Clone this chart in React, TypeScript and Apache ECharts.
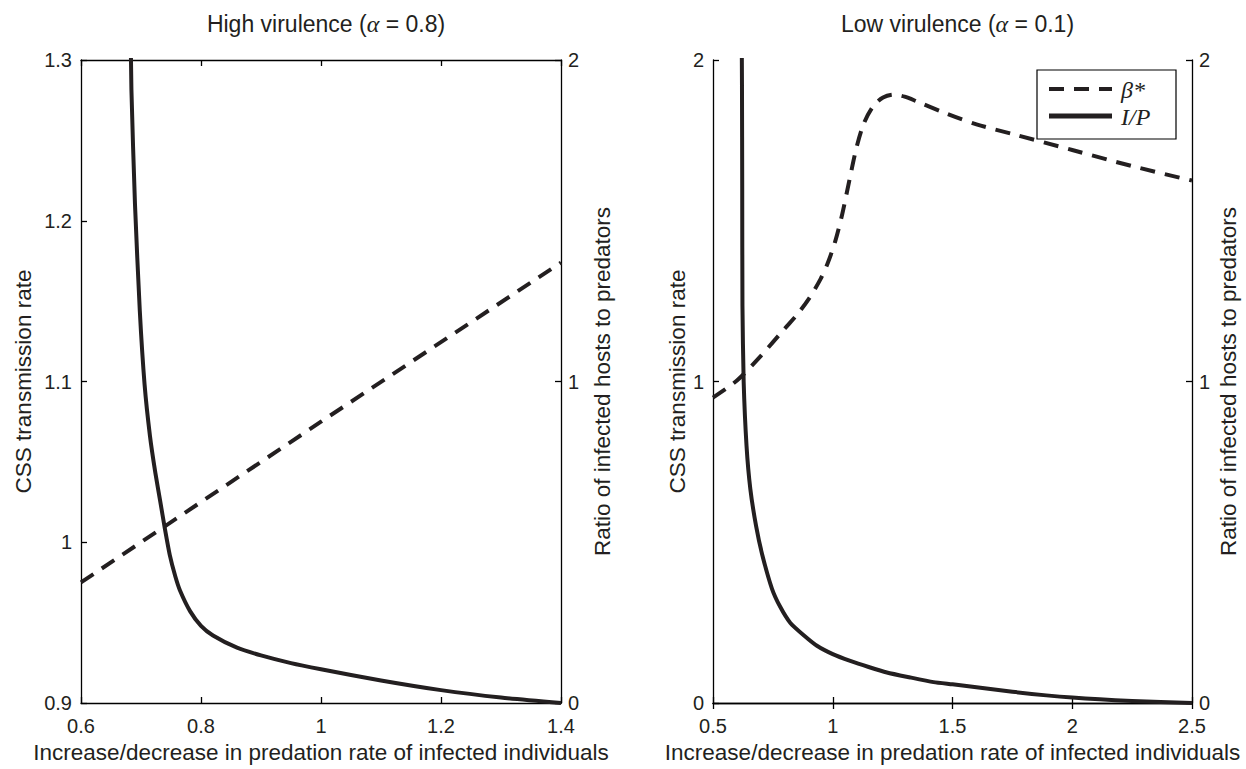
import React, { useEffect, useRef } from "react";
import * as echarts from "echarts";

// ---- Data ----
// Left panel: high virulence (alpha = 0.8)
const leftBetaX = [0.6, 1.0, 1.4];
const leftBetaY = [0.975, 1.075, 1.174];

const leftIPX = [0.682, 0.684, 0.69, 0.698, 0.706, 0.715, 0.724, 0.732, 0.74, 0.748, 0.757, 0.765, 0.782, 0.8, 0.82, 0.86, 0.9, 0.95, 1.0, 1.1, 1.2, 1.3, 1.4];
const leftIPY = [2.2, 1.91, 1.55, 1.22, 0.99, 0.83, 0.715, 0.628, 0.54, 0.46, 0.395, 0.35, 0.285, 0.24, 0.21, 0.172, 0.148, 0.124, 0.105, 0.07, 0.04, 0.017, 0.0];

// Right panel: low virulence (alpha = 0.1)
const rightBetaX = [0.5, 0.6, 0.7, 0.8, 0.85, 0.9, 0.95, 0.98, 1.01, 1.04, 1.07, 1.1, 1.13, 1.17, 1.21, 1.254, 1.3, 1.352, 1.47, 1.6, 1.75, 2.0, 2.25, 2.5];
const rightBetaY = [0.95, 1.003, 1.08, 1.165, 1.207, 1.257, 1.32, 1.37, 1.435, 1.522, 1.628, 1.73, 1.803, 1.857, 1.883, 1.892, 1.886, 1.871, 1.835, 1.8, 1.77, 1.72, 1.67, 1.625];

const rightIPX = [0.619, 0.621, 0.622, 0.623, 0.628, 0.64, 0.656, 0.68, 0.705, 0.746, 0.78, 0.823, 0.88, 0.934, 1.0, 1.073, 1.15, 1.226, 1.32, 1.421, 1.5, 1.75, 2.0, 2.25, 2.5];
const rightIPY = [2.2, 1.92, 1.6, 1.235, 1.0, 0.8, 0.665, 0.55, 0.463, 0.356, 0.3, 0.249, 0.21, 0.178, 0.152, 0.131, 0.112, 0.095, 0.08, 0.065, 0.058, 0.035, 0.017, 0.006, 0.0];

const leftXTicks = { min: 0.6, max: 1.4, interval: 0.2 };
const rightXTicks = { min: 0.5, max: 2.5, interval: 0.5 };
const leftYTicks = { min: 0.9, max: 1.3, interval: 0.1 };
const ratioTicks = { min: 0, max: 2, interval: 1 };

const titles = ["High virulence (", "Low virulence ("];
const alphas = ["0.8", "0.1"];
const xName = "Increase/decrease in predation rate of infected individuals";
const yLeftName = "CSS transmission rate";
const yRightName = "Ratio of infected hosts to predators";
const legendNames = ["β*", "I/P"];

const zip = (xs: number[], ys: number[]) => xs.map((x, i) => [x, ys[i]]);

const INK = "#231f20";
const FONT = "Liberation Sans, Arial, Helvetica, sans-serif";
const SERIF = "'Liberation Serif', 'Times New Roman', serif";

export default function App() {
  const ref = useRef<HTMLDivElement>(null);
  useEffect(() => {
    if (!ref.current) return;
    const chart = echarts.init(ref.current, null, { renderer: "svg" });

    const grids = [
      { left: 81, right: 685, top: 60, bottom: 66 },
      { left: 713, right: 54, top: 60, bottom: 66 },
    ];
    const xr = [leftXTicks, rightXTicks];
    const ylr = [leftYTicks, ratioTicks];
    const leftNameGap = [46, 24];
    const rightNameGap = [30, 25];

    const axisLine = { show: true, lineStyle: { color: "#000", width: 1.3 } };
    const tickStyle = { show: true, inside: true, length: 6, lineStyle: { color: "#000", width: 1.3 } };
    const labelStyle = { color: INK, fontSize: 20, fontFamily: FONT };
    const nameStyle = { color: INK, fontSize: 22.5, fontFamily: FONT };

    const xAxis: any[] = [];
    const yAxis: any[] = [];
    for (let g = 0; g < 2; g++) {
      xAxis.push({
        type: "value",
        gridIndex: g,
        position: "bottom",
        ...xr[g],
        axisLine,
        axisTick: tickStyle,
        splitLine: { show: false },
        axisLabel: { ...labelStyle, margin: 13 },
        name: xName,
        nameLocation: "middle",
        nameGap: 37,
        nameTextStyle: nameStyle,
      });
      xAxis.push({
        type: "value",
        gridIndex: g,
        position: "top",
        ...xr[g],
        axisLine,
        axisTick: tickStyle,
        splitLine: { show: false },
        axisLabel: { show: false },
      });
      yAxis.push({
        type: "value",
        gridIndex: g,
        position: "left",
        ...ylr[g],
        axisLine,
        axisTick: tickStyle,
        splitLine: { show: false },
        axisLabel: { ...labelStyle, margin: 9 },
        name: yLeftName,
        nameLocation: "middle",
        nameRotate: 90,
        nameGap: leftNameGap[g],
        nameTextStyle: nameStyle,
      });
      yAxis.push({
        type: "value",
        gridIndex: g,
        position: "right",
        ...ratioTicks,
        axisLine,
        axisTick: tickStyle,
        splitLine: { show: false },
        axisLabel: { ...labelStyle, margin: 7 },
        name: yRightName,
        nameLocation: "middle",
        nameRotate: 90,
        nameGap: rightNameGap[g],
        nameTextStyle: nameStyle,
      });
    }

    const line = (name: string, data: number[][], xi: number, yi: number, dashed: boolean, smooth: number | boolean) => ({
      type: "line",
      name,
      xAxisIndex: xi,
      yAxisIndex: yi,
      data,
      showSymbol: false,
      symbol: "none",
      smooth,
      clip: true,
      lineStyle: { color: INK, width: 4, type: dashed ? [15, 10] : "solid", cap: "butt", join: "round" },
    });

    const series = [
      line(legendNames[0], zip(leftBetaX, leftBetaY), 0, 0, true, false),
      line(legendNames[1], zip(leftIPX, leftIPY), 0, 1, false, 0.2),
      line(legendNames[0], zip(rightBetaX, rightBetaY), 2, 2, true, 0.3),
      line(legendNames[1], zip(rightIPX, rightIPY), 2, 3, false, 0.2),
    ];

    const centers = [321, 952.5];
    const title = [0, 1].map((g) => ({
      text: `${titles[g]}{i|α} = ${alphas[g]})`,
      left: centers[g],
      top: 7,
      textAlign: "center",
      textStyle: {
        color: INK,
        fontSize: 23,
        fontWeight: "normal",
        fontFamily: FONT,
        rich: { i: { fontStyle: "italic", fontSize: 24, fontFamily: SERIF, color: INK } },
      },
    }));

    const lgX = 1037, lgY = 70, lgW = 139, lgH = 69;
    const graphic = [
      { type: "rect", shape: { x: lgX, y: lgY, width: lgW, height: lgH }, style: { fill: "#fff", stroke: "#000", lineWidth: 1.2 }, z: 10 },
      { type: "line", shape: { x1: lgX + 12, y1: lgY + 19, x2: lgX + 75, y2: lgY + 19 }, style: { stroke: INK, lineWidth: 4, lineDash: [15, 10] }, z: 11 },
      { type: "text", x: lgX + 84, y: lgY + 20, style: { text: legendNames[0], fill: INK, font: `italic 24px ${SERIF}`, verticalAlign: "middle" }, z: 11 },
      { type: "line", shape: { x1: lgX + 12, y1: lgY + 46, x2: lgX + 75, y2: lgY + 46 }, style: { stroke: INK, lineWidth: 5 }, z: 11 },
      { type: "text", x: lgX + 84, y: lgY + 47, style: { text: legendNames[1], fill: INK, font: `italic 24px ${SERIF}`, verticalAlign: "middle" }, z: 11 },
    ];

    chart.setOption({
      animation: false,
      backgroundColor: "#fff",
      title,
      grid: grids,
      xAxis,
      yAxis,
      series,
      graphic,
    });
    return () => chart.dispose();
  }, []);
  return <div ref={ref} style={{ width: 1246, height: 769, position: "absolute", left: 0, top: 0 }} />;
}
